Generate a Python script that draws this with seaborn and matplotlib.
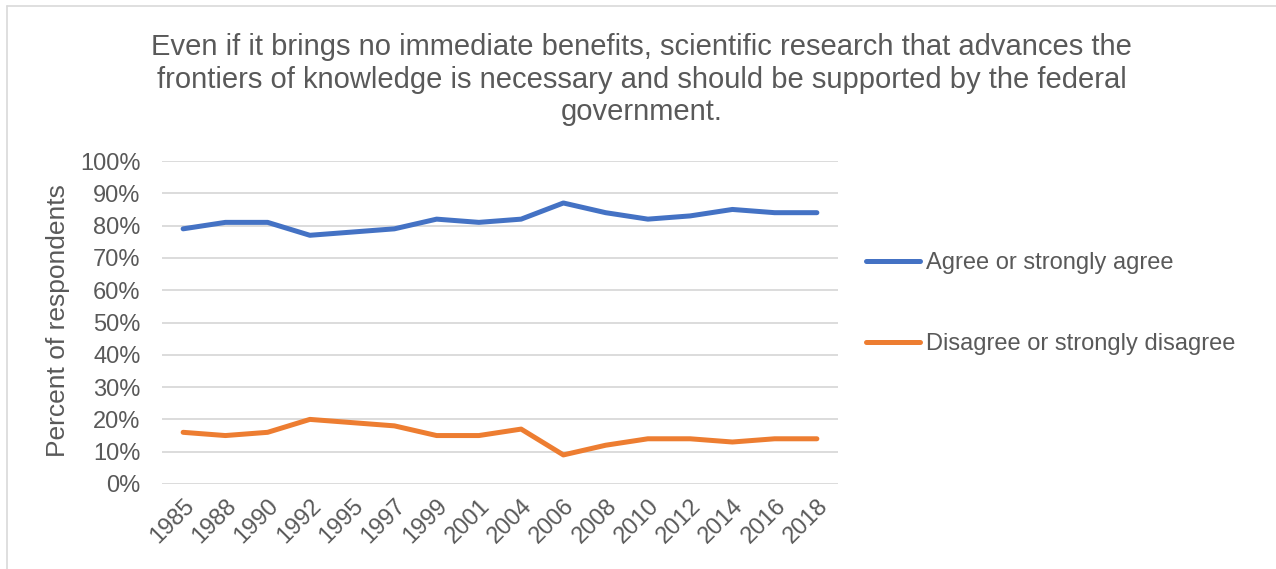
import matplotlib
matplotlib.use("Agg")
import matplotlib.pyplot as plt
from matplotlib.lines import Line2D
import seaborn as sns
import pandas as pd

years = ["1985", "1988", "1990", "1992", "1995", "1997", "1999", "2001",
         "2004", "2006", "2008", "2010", "2012", "2014", "2016", "2018"]
agree = [79, 81, 81, 77, 78, 79, 82, 81, 82, 87, 84, 82, 83, 85, 84, 84]
disagree = [16, 15, 16, 20, 19, 18, 15, 15, 17, 9, 12, 14, 14, 13, 14, 14]
series_names = ["Agree or strongly agree", "Disagree or strongly disagree"]
y_ticks = [0, 10, 20, 30, 40, 50, 60, 70, 80, 90, 100]

title = ("Even if it brings no immediate benefits, scientific research that advances the\n"
         "frontiers of knowledge is necessary and should be supported by the federal\n"
         "government.")

df = pd.DataFrame({
    "idx": list(range(len(years))) * 2,
    "value": agree + disagree,
    "series": [series_names[0]] * len(years) + [series_names[1]] * len(years),
})

sns.set_style("white")
plt.rcParams["font.family"] = ["Liberation Sans", "DejaVu Sans"]
text_color = "#595959"
grid_color = "#D9D9D9"
colors = {series_names[0]: "#4472C4", series_names[1]: "#ED7D31"}

W, H = 1276, 569
fig = plt.figure(figsize=(W / 100, H / 100), dpi=100)
ax = fig.add_axes([162 / W, 1 - 484 / H, (838 - 162) / W, (484 - 161) / H])

sns.lineplot(data=df, x="idx", y="value", hue="series", palette=colors,
             linewidth=3.6, ax=ax, legend=False, solid_capstyle="round")

ax.set_xlim(-0.5, len(years) - 0.5)
ax.set_ylim(0, 100)
ax.set_yticks(y_ticks)
ax.set_yticklabels([f"{v}%" for v in y_ticks])
ax.set_xticks(range(len(years)))
ax.set_xticklabels(years, rotation=45, ha="right", va="top", rotation_mode="anchor")
ax.tick_params(axis="both", length=0, labelsize=17, colors=text_color)
ax.tick_params(axis="x", pad=8)
ax.tick_params(axis="y", pad=15.5)
ax.grid(axis="y", color=grid_color, linewidth=1.3)
ax.set_axisbelow(True)
for s in ax.spines.values():
    s.set_visible(False)
ax.set_xlabel("")
ax.set_ylabel("")

fig.text(58 / W, 1 - 321 / H, "Percent of respondents", rotation=90,
         ha="center", va="center", fontsize=19, color=text_color)

fig.text(0.503, 1 - 33 / H, title, ha="center", va="top", fontsize=21,
         color=text_color, linespacing=1.21)

handles = [Line2D([], [], color=colors[n], linewidth=3.6, solid_capstyle="round")
           for n in series_names]
fig.legend(handles, series_names, loc="upper left",
           bbox_to_anchor=(866 / W, 1 - 252 / H), frameon=False,
           fontsize=17, labelcolor=text_color, handlelength=2.3,
           handletextpad=0.25, labelspacing=2.49, borderaxespad=0, borderpad=0)

# light chart frame along top and left edges
fig.add_artist(Line2D([7 / W, 1], [1 - 6 / H, 1 - 6 / H], color="#D9D9D9",
                      linewidth=1.2, transform=fig.transFigure))
fig.add_artist(Line2D([7 / W, 7 / W], [0, 1 - 6 / H], color="#D9D9D9",
                      linewidth=1.2, transform=fig.transFigure))

fig.savefig("out.png", dpi=100, facecolor="white")
